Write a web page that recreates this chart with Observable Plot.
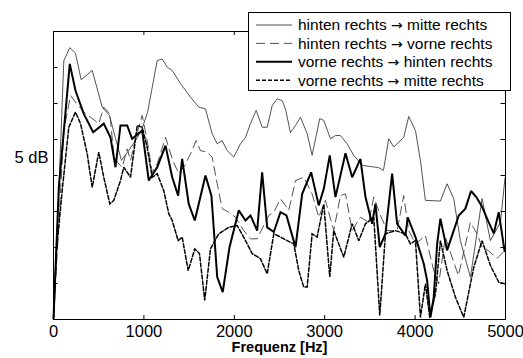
<!DOCTYPE html>
<html><head><meta charset="utf-8">
<script src="https://cdn.jsdelivr.net/npm/d3@7"></script>
<script src="https://cdn.jsdelivr.net/npm/@observablehq/plot@0.6"></script>
<style>
html,body{margin:0;padding:0;background:#fff;}
svg{font-family:"Liberation Sans",Arial,sans-serif;}
</style></head>
<body><div id="chart"></div>
<script>
const seriesFrom = ["hinten rechts","hinten rechts","vorne rechts","vorne rechts"];
const seriesTo = ["mitte rechts","vorne rechts","hinten rechts","mitte rechts"];
const xTicks = [0,1000,2000,3000,4000,5000];
const yTicks = [1,2,3,4,5,6,7];
const yLabel = "5 dB";
const xLabel = "Frequenz [Hz]";

// [Frequenz Hz, Pegel in Teilstrichen]
const hintenMitte = [[0,0.03],[55,3.3],[114,7.19],[180,7.55],[243,7.40],[306,6.66],[428,6.92],[539,5.90],[619,5.67],[686,5.03],[752,4.42],[830,4.69],[907,4.97],[973,5.25],[1040,5.75],[1147,7.19],[1202,7.24],[1258,7.01],[1313,6.92],[1405,6.55],[1515,6.18],[1607,5.90],[1681,5.85],[1755,5.16],[1811,4.88],[1866,4.97],[1921,4.69],[1994,4.51],[2068,4.88],[2124,5.06],[2179,5.44],[2242,5.81],[2308,5.34],[2364,5.34],[2419,5.94],[2474,6.13],[2529,6.08],[2566,5.85],[2621,5.19],[2677,5.39],[2732,5.62],[2806,5.16],[2861,4.56],[2945,5.58],[2990,5.53],[3064,5.02],[3119,5.11],[3174,5.11],[3248,4.88],[3321,4.56],[3418,4.28],[3506,4.25],[3595,4.22],[3650,4.14],[3708,5.02],[3764,4.79],[3874,5.06],[3930,5.64],[4004,5.25],[4059,4.42],[4114,3.31],[4280,3.29],[4354,3.77],[4427,3.36],[4501,2.19],[4612,1.17],[4741,3.36],[4833,2.19],[4944,2.70],[4995,3.94]];
const hintenVorne = [[0,0.03],[55,2.47],[114,5.25],[188,6.22],[243,6.04],[335,5.76],[409,5.62],[501,5.44],[556,5.90],[623,5.71],[667,4.60],[705,4.37],[760,4.23],[815,4.74],[852,4.42],[907,5.02],[981,5.67],[1036,4.97],[1092,4.09],[1147,4.32],[1239,5.06],[1319,4.42],[1386,4.05],[1452,4.28],[1515,4.60],[1578,4.97],[1626,4.69],[1700,4.65],[1755,4.51],[1811,3.77],[1866,3.08],[1939,2.98],[2013,2.84],[2105,2.47],[2179,2.24],[2253,2.24],[2308,2.52],[2381,2.89],[2437,2.98],[2511,3.35],[2566,3.17],[2602,3.03],[2677,3.86],[2768,3.95],[2861,3.49],[2934,2.84],[3008,3.31],[3100,2.47],[3174,3.44],[3230,3.49],[3304,2.47],[3395,2.84],[3487,2.70],[3543,3.40],[3617,2.89],[3691,2.47],[3801,2.47],[3874,3.44],[3930,2.47],[4004,2.10],[4114,2.33],[4206,1.36],[4261,0.99],[4335,2.29],[4409,1.73],[4479,1.22],[4612,2.70],[4686,2.38],[4741,2.01],[4815,1.90],[4907,1.70],[4995,1.92]];
const vorneHinten = [[0,0.03],[59,3.67],[180,7.10],[243,6.36],[335,5.71],[439,5.20],[556,5.44],[630,5.06],[686,4.23],[741,5.39],[815,5.39],[870,5.02],[981,5.25],[1054,3.86],[1147,4.23],[1239,4.83],[1313,3.95],[1379,3.44],[1423,4.46],[1496,3.21],[1563,2.75],[1681,4.00],[1747,3.44],[1811,1.18],[1872,0.76],[1947,2.01],[2049,3.03],[2124,2.75],[2179,2.89],[2253,2.47],[2308,4.09],[2364,2.56],[2437,2.43],[2511,2.98],[2577,2.89],[2677,2.01],[2751,3.49],[2850,4.09],[2934,3.17],[2990,3.63],[3056,4.56],[3119,3.40],[3230,4.62],[3304,3.95],[3395,4.46],[3451,3.40],[3525,2.66],[3561,3.21],[3609,2.01],[3672,2.38],[3746,4.05],[3801,2.66],[3893,2.33],[3919,2.84],[4004,2.29],[4096,1.55],[4133,1.08],[4170,0.06],[4206,0.62],[4244,2.10],[4280,2.80],[4354,1.92],[4427,2.47],[4483,2.89],[4556,3.08],[4619,3.57],[4677,3.40],[4741,3.13],[4796,2.80],[4870,2.39],[4925,2.98],[4990,1.90]];
const vorneMitte = [[0,0.03],[33,1.9],[96,3.58],[169,5.34],[243,5.76],[299,5.44],[373,4.60],[428,3.67],[501,4.65],[556,3.95],[623,3.21],[667,3.31],[741,3.86],[778,4.23],[852,3.95],[926,5.39],[981,5.34],[1036,4.79],[1092,3.95],[1147,4.05],[1220,3.58],[1275,2.94],[1313,2.75],[1379,2.19],[1423,2.29],[1490,1.36],[1563,1.96],[1615,1.83],[1673,0.53],[1736,1.96],[1828,2.38],[1939,2.56],[2032,2.61],[2124,2.19],[2198,1.83],[2289,1.69],[2364,1.27],[2437,2.38],[2511,2.29],[2585,2.19],[2658,2.10],[2713,1.36],[2768,0.90],[2806,0.90],[2861,2.38],[2916,2.29],[2990,3.21],[3056,1.18],[3100,2.47],[3211,1.73],[3304,2.66],[3377,2.19],[3451,2.66],[3543,2.84],[3609,0.11],[3672,2.38],[3782,2.47],[3893,2.38],[3948,2.10],[4004,2.19],[4059,0.06],[4114,0.99],[4162,0.06],[4225,0.71],[4280,2.19],[4354,1.36],[4446,0.62],[4538,0.06],[4649,1.45],[4741,2.19],[4833,1.50],[4925,1.04],[4995,0.99]];

const styles = [
  {stroke:"#404040", strokeWidth:0.9, dash:null},
  {stroke:"#404040", strokeWidth:0.9, dash:"9,5"},
  {stroke:"#000", strokeWidth:2, dash:null},
  {stroke:"#000", strokeWidth:1.5, dash:"4,2"}
];
const allSeries = [hintenMitte, hintenVorne, vorneHinten, vorneMitte];

const lineMarks = allSeries.map((s,i)=>Plot.line(s,{x:d=>d[0], y:d=>d[1], stroke:styles[i].stroke, strokeWidth:styles[i].strokeWidth, strokeDasharray:styles[i].dash, strokeLinejoin:"miter", strokeMiterlimit:2}));

const inner = xTicks.slice(1,-1);
const chart = Plot.plot({
  width:523, height:358,
  marginLeft:53, marginRight:18, marginTop:31, marginBottom:39,
  x:{domain:[0,5000]},
  y:{domain:[0,8]},
  style:{fontFamily:"Liberation Sans, Arial, sans-serif", background:"#fff", fontSize:"16px", color:"#000"},
  marks:[
    ...lineMarks,
    Plot.ruleX(inner,{x:d=>d, y1:0, y2:0.11, stroke:"#000"}),
    Plot.ruleX(inner,{x:d=>d, y1:8, y2:7.89, stroke:"#000"}),
    Plot.ruleY(yTicks,{y:d=>d, x1:0, x2:50, stroke:"#000"}),
    Plot.ruleY(yTicks,{y:d=>d, x1:5000, x2:4950, stroke:"#000"}),
    Plot.frame({stroke:"#000"}),
    Plot.axisX(xTicks,{tickSize:0, tickPadding:6, fontSize:16.5, tickFormat:d=>String(d), label:null}),
    Plot.axisY([],{label:null, tickSize:0}),
    Plot.text([yLabel],{frameAnchor:"left", y:()=>4.5, dx:-5, textAnchor:"end", fontSize:16.5}),
    Plot.text([xLabel],{frameAnchor:"bottom", dy:32, fontSize:14.5, fontWeight:"bold"})
  ]
});
document.getElementById("chart").appendChild(chart);

// legend
const svg = d3.select(chart);
const lg = svg.append("g").attr("text-anchor","start");
lg.append("rect").attr("x",248.5).attr("y",12.5).attr("width",262).attr("height",78).attr("fill","#fff").attr("stroke","#000").attr("stroke-width",1);
seriesFrom.forEach((from,i)=>{
  const y = 25 + i*18.4;
  lg.append("line").attr("x1",256).attr("x2",292).attr("y1",y).attr("y2",y)
    .attr("stroke",styles[i].stroke).attr("stroke-width",styles[i].strokeWidth)
    .attr("stroke-dasharray",styles[i].dash);
  const t = lg.append("text").attr("x",298).attr("y",y).attr("dy","0.35em").attr("font-size",15.5).attr("text-anchor","start").attr("fill","#000");
  t.append("tspan").text(from + " ");
  t.append("tspan").attr("font-family","DejaVu Sans").attr("font-size",14).text("\u2192");
  t.append("tspan").text(" " + seriesTo[i]);
});
</script></body></html>
